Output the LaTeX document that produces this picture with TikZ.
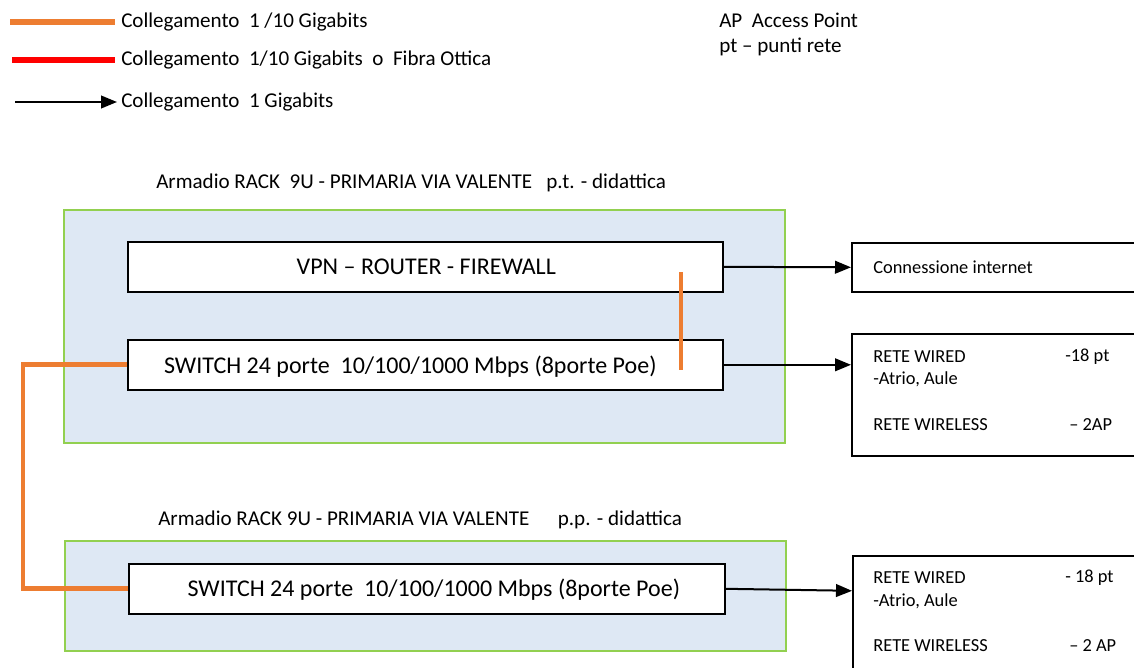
\documentclass[tikz,border=0pt]{standalone}
\usepackage{fontspec}
\setmainfont{Carlito}
\usetikzlibrary{arrows.meta}
\definecolor{orng}{HTML}{ED7D31}
\definecolor{rackfill}{HTML}{DEE8F4}
\definecolor{rackline}{HTML}{92D050}
\tikzset{
  rack/.style={draw=rackline, line width=1.5pt, fill=rackfill},
  dev/.style={draw=black, line width=1.2pt, fill=white, inner sep=0pt},
  info/.style={draw=black, line width=1.2pt, fill=white, inner sep=0pt},
  lbl/.style={anchor=west, inner sep=0pt, font=\fontsize{15.8}{18}\selectfont},
  small/.style={anchor=west, inner sep=0pt, font=\fontsize{13.8}{16}\selectfont},
  captxt/.style={anchor=west, inner sep=0pt, font=\fontsize{15.8}{18}\selectfont},
  devtxt/.style={inner sep=0pt, font=\fontsize{18}{21}\selectfont},
  olink/.style={draw=orng, line width=3.8pt},
  rlink/.style={draw=red, line width=3.8pt},
  blink/.style={draw=black, line width=1.5pt, -{Triangle[length=12pt,width=9.5pt]}},
}
\begin{document}
\begin{tikzpicture}[x=0.75pt,y=-0.75pt]
\useasboundingbox (0,0) rectangle (1134,667);
\clip (0,0) rectangle (1134,667);
% legend
\coordinate (l1a) at (10,22); \coordinate (l1b) at (115,22);
\draw[olink] (l1a) -- (l1b);
\node[lbl] (t1) at (121,22) {Collegamento~~1 /10 Gigabits};
\coordinate (l2a) at (12,60); \coordinate (l2b) at (115,60);
\draw[rlink] (l2a) -- (l2b);
\node[lbl] (t2) at (121,60) {Collegamento~~1/10 Gigabits~~o~~Fibra Ottica};
\coordinate (l3a) at (15,102); \coordinate (l3b) at (117,102);
\draw[blink] (l3a) -- (l3b);
\node[lbl] (t3) at (121,102) {Collegamento~~1 Gigabits};
\node[lbl] (ap) at (719,20) {AP~~Access Point};
\node[lbl] (pt) at (719,47) {pt -- punti rete};
% rack 1
\node[captxt] (cap1) at (156,183) {Armadio RACK~~9U - PRIMARIA VIA VALENTE~~~p.t. - didattica};
\node[rack, minimum width=721*0.75pt, minimum height=233*0.75pt, anchor=north west] (rack1) at (63,209) {};
\node[dev, minimum width=595*0.75pt, minimum height=50*0.75pt, anchor=north west] (vpn) at (127,241) {};
\node[devtxt] (vpnt) at ([xshift=0.75pt]vpn.center) {VPN -- ROUTER - FIREWALL};
\node[dev, minimum width=595*0.75pt, minimum height=50*0.75pt, anchor=north west] (sw1) at (127,339) {};
\node[devtxt] (sw1t) at ([xshift=-15*0.75pt, yshift=-2*0.75pt]sw1.center) {SWITCH 24 porte~~10/100/1000 Mbps (8porte Poe)};
\coordinate (ov1) at (681,272); \coordinate (ov2) at (681,370);
\draw[orng, line width=3.5pt] (ov1) -- (ov2);
% rack 2
\node[captxt] (cap2) at (158,520) {Armadio RACK 9U - PRIMARIA VIA VALENTE~~~~~~p.p. - didattica};
\node[rack, minimum width=721*0.75pt, minimum height=110*0.75pt, anchor=north west] (rack2) at (64,540) {};
\node[dev, minimum width=596*0.75pt, minimum height=50*0.75pt, anchor=north west] (sw2) at (128,563) {};
\node[devtxt] (sw2t) at ([xshift=7*0.75pt, yshift=-1*0.75pt]sw2.center) {SWITCH 24 porte~~10/100/1000 Mbps (8porte Poe)};
% right info boxes
\node[info, minimum width=300*0.75pt, minimum height=49*0.75pt, anchor=north west] (inet) at (851,242) {};
\node[small] (inett) at (873,267) {Connessione internet};
\node[info, minimum width=300*0.75pt, minimum height=122*0.75pt, anchor=north west] (rete1) at (851,333) {};
\node[small] at (873,357) {RETE WIRED};
\node[small] at (1065,357) {-18 pt};
\node[small] at (873,379) {-Atrio, Aule};
\node[small] at (873,425) {RETE WIRELESS};
\node[small] at (1069,425) {-- 2AP};
\node[info, minimum width=300*0.75pt, minimum height=130*0.75pt, anchor=north west] (rete2) at (852,555) {};
\node[small] at (873,578) {RETE WIRED};
\node[small] at (1065,578) {- 18 pt};
\node[small] at (873,601) {-Atrio, Aule};
\node[small] at (873,646) {RETE WIRELESS};
\node[small] at (1069,646) {-- 2 AP};
% connectors
\draw[blink] (vpn.east) -- (inet.west);
\draw[blink] (sw1.east) -- (sw1.east -| rete1.west);
\draw[blink] (sw2.east) -- ([yshift=-2*0.75pt]sw2.east -| rete2.west);
\draw[olink, line width=3.5pt] (sw1.west) -- (sw1.west -| 23,0) -- (sw2.west -| 23,0) -- (sw2.west);
\end{tikzpicture}
\end{document}
